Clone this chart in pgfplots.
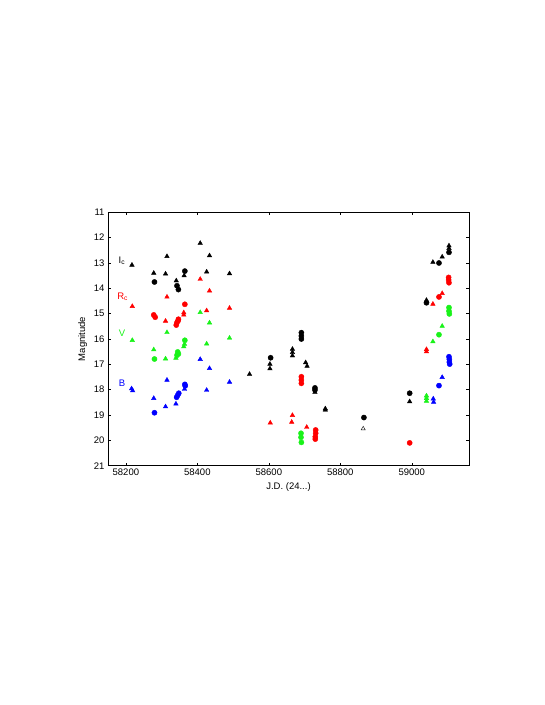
\documentclass[border=0pt]{standalone}
\usepackage{pgfplots}
\pgfplotsset{compat=1.18}
\usepackage{fontspec}
\setmainfont{Liberation Sans}
\definecolor{vgreen}{rgb}{0.1,0.95,0.1}

\begin{document}
\begin{tikzpicture}[x=1pt,y=1pt]
\path[use as bounding box] (0,0) rectangle (545,705);
\begin{axis}[
  at={(108pt,239.3pt)}, anchor=south west,
  scale only axis, width=361pt, height=253.4pt,
  xmin=58150, xmax=59160, ymin=11, ymax=21,
  y dir=reverse,
  xtick={58200,58400,...,59000}, ytick={11,12,...,21},
  tick align=inside, major tick length=3pt,
  scaled x ticks=false,
  xticklabel style={/pgf/number format/fixed, /pgf/number format/precision=0, /pgf/number format/1000 sep={}},
  /pgf/number format/assume math mode=true,
  tick label style={font=\fontsize{9.5}{11}\selectfont},
  label style={font=\fontsize{9.5}{11}\selectfont},
  xlabel={J.D. (24...)}, ylabel={Magnitude},
  axis line style={line width=0.9pt},
  every tick/.style={black, line width=0.6pt},
  only marks,
  clip=false,
]
% Ic
\addplot[black, mark=triangle*, mark size=2.6pt] table {
58217 13.08
58278 13.40
58315 12.74
58311 13.43
58341 13.70
58363 13.50
58408 12.22
58434 12.71
58426 13.35
58490 13.42
58546 17.39
58603 16.99
58603 17.17
58666 16.40
58666 16.53
58666 16.66
58703 16.93
58707 17.07
58729 18.10
58758 18.75
58758 18.80
58994 18.47
59041 14.47
59059 12.97
59085 12.76
59104 12.32
59104 12.42
};
\addplot[black, mark=*, mark size=2.6pt] table {
58280 13.75
58343 13.90
58347 14.05
58365 13.32
58605 16.74
58691 15.75
58691 15.88
58691 16.00
58729 17.93
58729 18.01
58866 19.10
58994 18.14
59041 14.57
59076 13.00
59104 12.58
};
\addplot[black, mark=triangle, mark size=2.4pt, mark options={line width=0.4pt}] table {
58864 19.54
};
% Rc
\addplot[red, mark=triangle*, mark size=2.6pt] table {
58218 14.71
58315 14.34
58311 15.29
58362 14.96
58362 15.05
58408 13.64
58434 14.10
58426 14.88
58490 14.78
58604 19.31
58666 19.01
58664 19.28
58706 19.48
59041 16.41
59041 16.50
59059 14.62
59085 14.20
};
\addplot[red, mark=*, mark size=2.6pt] table {
58278 15.05
58282 15.14
58341 15.45
58343 15.35
58346 15.28
58347 15.22
58365 14.63
58691 17.49
58691 17.62
58691 17.75
58731 19.59
58731 19.72
58730 19.86
58730 19.95
58994 20.10
59076 14.34
59103 13.57
59103 13.67
59104 13.78
};
% V
\addplot[vgreen, mark=triangle*, mark size=2.6pt] table {
58218 16.05
58278 16.42
58315 15.74
58311 16.78
58340 16.75
58364 16.20
58362 16.30
58408 14.95
58434 15.36
58426 16.19
58490 15.96
59041 18.24
59041 18.34
59041 18.45
59059 16.10
59085 15.49
};
\addplot[vgreen, mark=*, mark size=2.6pt] table {
58280 16.79
58345 16.51
58347 16.59
58343 16.64
58365 16.05
58690 19.72
58690 19.88
58691 20.08
59076 15.83
59104 14.76
59104 14.90
59105 15.01
};
% B
\addplot[blue, mark=triangle*, mark size=2.6pt] table {
58216 17.96
58219 18.04
58278 18.34
58315 17.62
58311 18.67
58340 18.56
58364 17.98
58408 16.80
58434 17.16
58426 18.02
58490 17.70
59060 18.36
59061 18.49
59085 17.51
};
\addplot[blue, mark=*, mark size=2.6pt] table {
58280 18.91
58342 18.30
58345 18.22
58348 18.14
58365 17.79
58366 17.85
59076 17.84
59104 16.70
59105 16.80
59105 16.91
59106 16.99
};
\node[black, font=\fontsize{9.5}{11}\selectfont] at (axis cs:58189,12.9) {I\textsubscript{c}};
\node[red, font=\fontsize{9.5}{11}\selectfont] at (axis cs:58191,14.35) {R\textsubscript{c}};
\node[vgreen, font=\fontsize{9.5}{11}\selectfont] at (axis cs:58189,15.78) {V};
\node[blue, font=\fontsize{9.5}{11}\selectfont] at (axis cs:58189,17.75) {B};
\end{axis}
\end{tikzpicture}
\end{document}
